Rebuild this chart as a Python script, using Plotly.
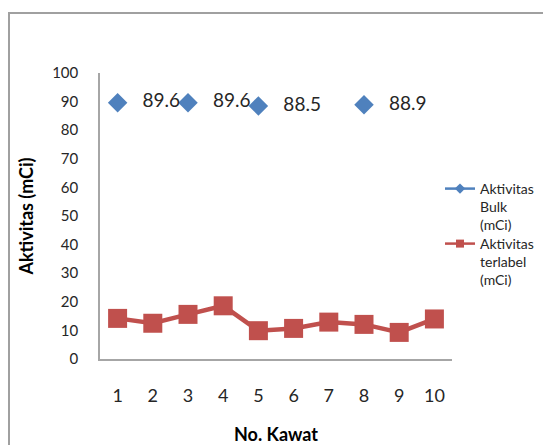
import plotly.graph_objects as go

kawat = ["1", "2", "3", "4", "5", "6", "7", "8", "9", "10"]
bulk = [89.6, None, 89.6, None, 88.5, None, None, 88.9, None, None]
terlabel = [14.2, 12.5, 15.6, 18.6, 9.9, 10.7, 12.9, 12.1, 9.3, 14.0]
y_ticks = [0, 10, 20, 30, 40, 50, 60, 70, 80, 90, 100]

BLUE = "#4F81BD"
RED = "#C0504D"
FONT = "Lato"

OFF = 8  # default page body margin
W, H = 551 - OFF, 445 - OFF
ML, MT = 100 - OFF, 73 - OFF
PW, PH = 352, 286
MR, MB = W - ML - PW, H - MT - PH

def px_x(p):  # page pixel -> paper x
    return (p - OFF - ML) / PW

def px_y(p):  # page pixel -> paper y
    return (MT + PH - (p - OFF)) / PH

fig = go.Figure()
fig.add_trace(go.Scatter(
    x=kawat, y=bulk, mode="lines+markers+text", connectgaps=False,
    line=dict(color=BLUE, width=2.5),
    marker=dict(symbol="diamond", size=15, color=BLUE),
    texttemplate="\u00a0\u00a0\u00a0%{y}", textposition="middle right",
    textfont=dict(family=FONT, size=19, color="#262626"),
    showlegend=False, cliponaxis=False,
))
fig.add_trace(go.Scatter(
    x=kawat, y=terlabel, mode="lines+markers",
    line=dict(color=RED, width=4.5),
    marker=dict(symbol="square", size=19, color=RED),
    showlegend=False, cliponaxis=False,
))
# legend entries
fig.add_trace(go.Scatter(
    x=[None], y=[None], mode="lines+markers", name="Aktivitas<br>Bulk<br>(mCi)",
    line=dict(color=BLUE, width=2.5), marker=dict(symbol="diamond", size=8, color=BLUE),
    legend="legend",
))
fig.add_trace(go.Scatter(
    x=[None], y=[None], mode="lines+markers", name="Aktivitas<br>terlabel<br>(mCi)",
    line=dict(color=RED, width=2.5), marker=dict(symbol="square", size=8, color=RED),
    legend="legend2",
))

fig.add_shape(type="rect", xref="paper", yref="paper",
              x0=px_x(9), x1=px_x(551 + 20), y0=px_y(445 + 20), y1=px_y(13),
              line=dict(color="#A0A0A0", width=2), fillcolor="rgba(0,0,0,0)")

leg_common = dict(xanchor="left", yanchor="top", valign="top",
                  font=dict(family=FONT, size=14, color="#262626"),
                  bgcolor="rgba(0,0,0,0)", itemwidth=30)

fig.update_layout(
    width=W, height=H,
    margin=dict(l=ML, r=MR, t=MT, b=MB, autoexpand=False),
    paper_bgcolor="white", plot_bgcolor="white",
    font=dict(family=FONT, color="#262626"),
    legend=dict(x=px_x(440), y=px_y(173), **leg_common),
    legend2=dict(x=px_x(440), y=px_y(228), **leg_common),
    xaxis=dict(
        type="category", range=[-0.5, 9.5], showgrid=False, automargin=False,
        showline=True, linecolor="#A6A6A6", linewidth=1.5,
        ticks="outside", ticklen=20, tickcolor="rgba(0,0,0,0)",
        tickfont=dict(family=FONT, size=18, color="#262626"),
        title=dict(text="<b>No. Kawat</b>", font=dict(family=FONT, size=18, color="#000000"), standoff=24),
        zeroline=False,
    ),
    yaxis=dict(
        range=[0, 100], tickvals=y_ticks, showgrid=False, automargin=False,
        showline=True, linecolor="#A6A6A6", linewidth=1.5,
        ticks="outside", ticklen=17, tickcolor="rgba(0,0,0,0)",
        tickfont=dict(family=FONT, size=15, color="#262626"),
        title=dict(text="<b>Aktivitas (mCi)</b>", font=dict(family=FONT, size=18, color="#000000"), standoff=14),
        zeroline=False,
    ),
)

fig.write_html("out.html")
